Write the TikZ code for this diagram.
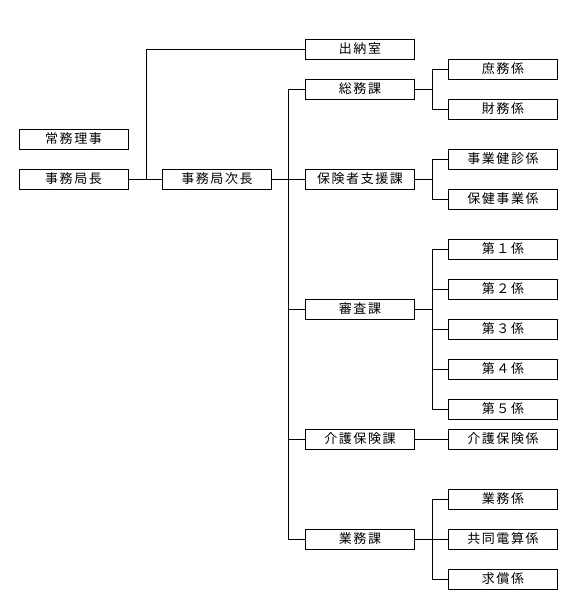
\documentclass[tikz,border=0pt]{standalone}
\usepackage{fontspec}
\setmainfont{Noto Sans CJK JP}[LetterSpace=12]
\begin{document}
\begin{tikzpicture}[x=1pt,y=-1pt,
  box/.style={draw=black,line width=1pt,fill=white,minimum width=109pt,minimum height=20pt,inner sep=0pt,font=\fontsize{13}{13}\selectfont},
  conn/.style={draw=black,line width=1pt}]
\useasboundingbox (0,0) rectangle (572,606);
% left column
\node[box] (joumu) at (73.5,139) {常務理事};
\node[box] (kyoku) at (73.5,179) {事務局長};
\node[box] (jicho) at (217,179) {事務局次長};
% middle column
\node[box] (suitou) at (360,49) {出納室};
\node[box] (soumu) at (360,89) {総務課};
\node[box] (hoken) at (360,179) {保険者支援課};
\node[box] (shinsa) at (360,309) {審査課};
\node[box] (kaigo) at (360,439) {介護保険課};
\node[box] (gyomu) at (360,539) {業務課};
% right column
\node[box] (shomu) at (503,69) {庶務係};
\node[box] (zaimu) at (503,109) {財務係};
\node[box] (kenshin) at (503,159) {事業健診係};
\node[box] (hjigyo) at (503,199) {保健事業係};
\node[box] (d1) at (503,249) {第１係};
\node[box] (d2) at (503,289) {第２係};
\node[box] (d3) at (503,329) {第３係};
\node[box] (d4) at (503,369) {第４係};
\node[box] (d5) at (503,409) {第５係};
\node[box] (kaigok) at (503,439) {介護保険係};
\node[box] (gyomuk) at (503,499) {業務係};
\node[box] (kyodo) at (503,539) {共同電算係};
\node[box] (kyusho) at (503,579) {求償係};
% junction coordinates
\coordinate (ja) at (146,179);
\coordinate (jb) at (288,179);
\coordinate (jc) at (432,0);
% connectors
\draw[conn] (kyoku.east) -- (jicho.west);
\draw[conn] (ja) |- (suitou.west);
\draw[conn] (jicho.east) -- (jb);
\draw[conn] (soumu.west) -- (soumu.west -| jb) -- (gyomu.west -| jb) -- (gyomu.west);
\draw[conn] (hoken.west) -- (hoken.west -| jb);
\draw[conn] (shinsa.west) -- (shinsa.west -| jb);
\draw[conn] (kaigo.west) -- (kaigo.west -| jb);
% sub branches
\draw[conn] (soumu.east) -- (soumu.east -| jc);
\draw[conn] (shomu.west) -- (shomu.west -| jc) -- (zaimu.west -| jc) -- (zaimu.west);
\draw[conn] (hoken.east) -- (hoken.east -| jc);
\draw[conn] (kenshin.west) -- (kenshin.west -| jc) -- (hjigyo.west -| jc) -- (hjigyo.west);
\draw[conn] (shinsa.east) -- (shinsa.east -| jc);
\draw[conn] (d1.west) -- (d1.west -| jc) -- (d5.west -| jc) -- (d5.west);
\draw[conn] (d2.west) -- (d2.west -| jc);
\draw[conn] (d3.west) -- (d3.west -| jc);
\draw[conn] (d4.west) -- (d4.west -| jc);
\draw[conn] (kaigo.east) -- (kaigok.west);
\draw[conn] (gyomu.east) -- (kyodo.west);
\draw[conn] (gyomuk.west) -- (gyomuk.west -| jc) -- (kyusho.west -| jc) -- (kyusho.west);
\end{tikzpicture}
\end{document}
